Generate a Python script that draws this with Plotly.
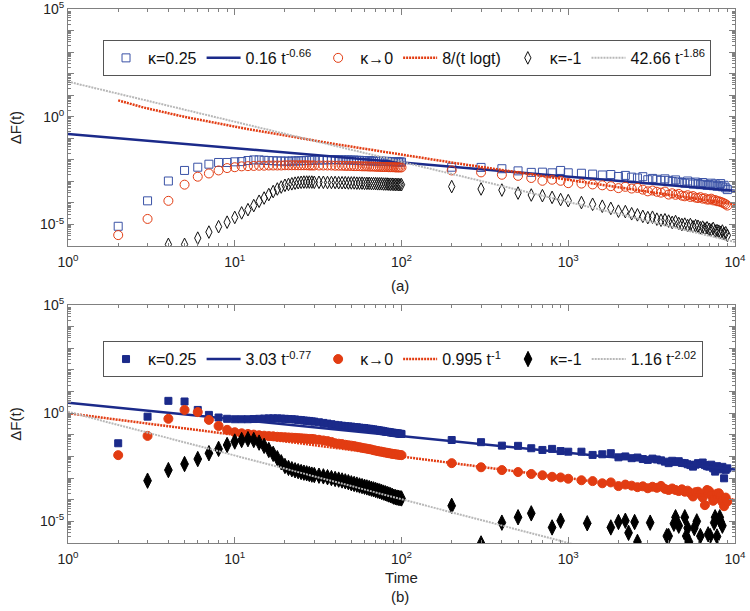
import numpy as np
import plotly.graph_objects as go

# ── data (log10 of ΔF) ────────────────────────────────────────────────────────
T_LEFT = list(range(2, 31)) + list(range(32, 101, 2))
T_RIGHT = list(range(200, 1001, 100)) + list(range(1200, 9001, 200))

# panel (a)
A_BLUE_L = [-5.08, -3.90, -2.98, -2.49, -2.34, -2.20, -2.12, -2.12, -2.09, -2.08,
            -2.03, -2.00, -2.00, -2.02, -2.03, -2.04, -2.05, -2.05, -2.06, -2.06,
            -2.05, -2.05, -2.04, -2.04, -2.03, -2.03, -2.02, -2.02, -2.01,
            -2.01, -2.00, -2.00, -1.99, -1.99, -1.99, -2.00, -2.00, -2.00, -2.01,
            -2.01, -2.02, -2.02, -2.03, -2.03, -2.04, -2.04, -2.05, -2.05, -2.05,
            -2.06, -2.06, -2.06, -2.07, -2.07, -2.07, -2.08, -2.08, -2.08, -2.09,
            -2.09, -2.09, -2.10, -2.10, -2.10]
A_RED_L = [-5.49, -4.74, -3.90, -3.15, -2.78, -2.63, -2.49, -2.38, -2.34, -2.30,
           -2.29, -2.28, -2.27, -2.27, -2.26, -2.26, -2.26, -2.26, -2.25, -2.25,
           -2.25, -2.25, -2.25, -2.25, -2.25, -2.25, -2.26, -2.26, -2.26,
           -2.26, -2.26, -2.26, -2.26, -2.27, -2.27, -2.27, -2.28, -2.28, -2.28,
           -2.29, -2.29, -2.29, -2.30, -2.30, -2.30, -2.31, -2.31, -2.31, -2.32,
           -2.32, -2.32, -2.33, -2.33, -2.33, -2.33, -2.34, -2.34, -2.34, -2.34,
           -2.35, -2.35, -2.35, -2.35, -2.35]
A_BLACK_L = [None, None, -5.92, -5.92, -5.63, -5.35, -5.10, -4.89, -4.67, -4.46,
             -4.31, -4.12, -3.92, -3.77, -3.61, -3.47, -3.35, -3.26, -3.18, -3.14,
             -3.11, -3.08, -3.06, -3.04, -3.03, -3.03, -3.03, -3.03, -3.04,
             -3.04, -3.04, -3.05, -3.05, -3.05, -3.06, -3.06, -3.06, -3.07, -3.07,
             -3.07, -3.08, -3.08, -3.08, -3.09, -3.09, -3.09, -3.10, -3.10, -3.10,
             -3.11, -3.11, -3.11, -3.12, -3.12, -3.12, -3.13, -3.13, -3.13, -3.14,
             -3.14, -3.14, -3.15, -3.15, -3.15]
A_BLUE_R = [-2.34, -2.35, -2.41, -2.51, -2.58, -2.57, -2.60, -2.49, -2.60,
            -2.62, -2.66, -2.70, -2.68, -2.77, -2.72, -2.80, -2.84, -2.78, -2.92,
            -2.86, -2.90, -2.95, -2.88, -2.95, -3.00, -2.93, -3.02, -3.05, -3.08,
            -2.98, -3.06, -3.12, -3.03, -3.10, -3.15, -3.05, -3.13, -3.18, -3.15,
            -3.08, -3.20, -3.12, -3.22, -3.20, -3.10, -3.25, -3.18, -3.30, -3.38]
A_RED_R = [-2.49, -2.58, -2.69, -2.74, -2.84, -2.97, -2.92, -2.97, -3.08,
           -3.10, -3.14, -3.18, -3.22, -3.31, -3.25, -3.33, -3.30, -3.38, -3.46,
           -3.42, -3.48, -3.52, -3.47, -3.61, -3.55, -3.62, -3.58, -3.66, -3.69,
           -3.64, -3.72, -3.68, -3.75, -3.77, -3.73, -3.80, -3.78, -3.84, -3.84,
           -3.80, -3.88, -3.86, -3.92, -3.92, -3.95, -3.98, -4.02, -4.06, -4.12]
A_BLACK_R = [-3.24, -3.35, -3.40, -3.54, -3.63, -3.66, -3.74, -3.84, -3.89,
             -3.98, -4.06, -4.15, -4.25, -4.38, -4.40, -4.50, -4.55, -4.62, -4.68,
             -4.66, -4.75, -4.80, -4.78, -4.84, -4.90, -4.86, -4.95, -5.00, -4.98,
             -5.05, -5.00, -5.10, -5.05, -5.08, -5.15, -5.12, -5.20, -5.15, -5.22,
             -5.25, -5.18, -5.30, -5.28, -5.31, -5.36, -5.30, -5.42, -5.38, -5.50]

# panel (b)
B_BLUE_L = [-1.39, -0.16, 0.57, 0.54, 0.15, -0.08, -0.20, -0.26, -0.28, -0.28,
            -0.28, -0.27, -0.26, -0.25, -0.24, -0.24, -0.24, -0.25, -0.26, -0.27,
            -0.28, -0.29, -0.31, -0.32, -0.34, -0.35, -0.36, -0.38, -0.39,
            -0.42, -0.45, -0.48, -0.51, -0.54, -0.56, -0.58, -0.60, -0.61, -0.62,
            -0.64, -0.65, -0.67, -0.68, -0.69, -0.71, -0.72, -0.74, -0.75, -0.77,
            -0.78, -0.80, -0.81, -0.83, -0.85, -0.86, -0.87, -0.89, -0.90, -0.91,
            -0.92, -0.93, -0.94, -0.95, -0.96]
B_RED_L = [-1.94, -1.05, -0.26, 0.15, 0.05, -0.31, -0.59, -0.77, -0.88, -0.93,
           -0.96, -0.99, -1.02, -1.04, -1.06, -1.07, -1.09, -1.10, -1.11, -1.12,
           -1.13, -1.14, -1.15, -1.16, -1.17, -1.18, -1.19, -1.19, -1.20,
           -1.23, -1.26, -1.29, -1.33, -1.39, -1.41, -1.43, -1.46, -1.48, -1.50,
           -1.52, -1.55, -1.57, -1.60, -1.62, -1.64, -1.66, -1.68, -1.71, -1.73,
           -1.75, -1.77, -1.78, -1.80, -1.82, -1.83, -1.85, -1.86, -1.88, -1.89,
           -1.90, -1.91, -1.92, -1.93, -1.94]
B_BLACK_L = [None, -3.12, -2.63, -2.35, -2.12, -1.85, -1.65, -1.47, -1.31, -1.24,
             -1.20, -1.24, -1.36, -1.51, -1.70, -1.88, -2.08, -2.27, -2.44, -2.53,
             -2.59, -2.64, -2.68, -2.72, -2.75, -2.78, -2.81, -2.84, -2.86,
             -2.89, -2.92, -2.96, -3.00, -3.04, -3.07, -3.11, -3.15, -3.19, -3.24,
             -3.27, -3.30, -3.34, -3.37, -3.40, -3.43, -3.46, -3.49, -3.52, -3.55,
             -3.58, -3.61, -3.64, -3.67, -3.70, -3.73, -3.76, -3.79, -3.82, -3.86,
             -3.88, -3.90, -3.91, -3.93, -3.94]
B_BLUE_R = [-1.24, -1.34, -1.50, -1.51, -1.62, -1.70, -1.65, -1.75, -1.78,
            -1.78, -1.93, -1.90, -1.85, -2.04, -2.00, -2.08, -2.05, -2.12, -2.16,
            -2.10, -2.14, -2.18, -2.24, -2.31, -2.20, -2.26, -2.22, -2.30, -2.31,
            -2.36, -2.40, -2.47, -2.38, -2.31, -2.35, -2.28, -2.40, -2.45, -2.47,
            -2.38, -2.55, -2.70, -2.45, -2.55, -2.60, -2.48, -3.01, -2.62, -2.55]
B_RED_R = [-2.31, -2.50, -2.63, -2.72, -2.81, -2.87, -2.94, -2.97, -3.03,
           -3.10, -3.14, -3.24, -3.20, -3.37, -3.30, -3.35, -3.42, -3.38, -3.47,
           -3.40, -3.45, -3.36, -3.50, -3.55, -3.48, -3.55, -3.60, -3.52, -3.63,
           -3.58, -3.70, -3.85, -3.65, -3.63, -3.75, -3.90, -4.25, -3.55, -3.60,
           -3.80, -4.05, -3.95, -3.72, -3.70, -3.85, -4.10, -4.30, -3.90, -4.09]
B_BLACK_T_R = [200, 300, 400, 500, 600, 800, 900, 1300, 1800, 2000,
               2200, 2300, 2500, 2600, 3100, 3900, 4000, 4300, 4400, 4600,
               5000, 5100, 5200, 5300, 5700, 5900, 6200, 6900, 7100, 7500,
               7600, 7800, 8100, 8200, 8400]
B_BLACK_R = [-4.28, -6.02, -5.06, -4.81, -4.63, -5.28, -4.97, -5.09, -5.28, -5.03,
             -4.97, -5.53, -5.03, -5.95, -5.06, -5.68, -5.68, -5.11, -4.81, -5.20,
             -4.81, -5.68, -5.31, -5.95, -5.31, -5.00, -5.68, -5.60, -5.68, -5.06,
             -4.81, -5.70, -4.81, -5.03, -5.20]

# fitted laws given in the legends
FIT_A_BLUE = (0.16, -0.66)
FIT_A_GREY = (42.66, -1.86)
FIT_B_BLUE = (3.03, -0.77)
FIT_B_RED = (0.995, -1.0)
FIT_B_GREY = (1.16, -2.02)

BLUE = "#1b2a8a"
BLUE_OPEN = "#3a52a6"
RED = "#e23c12"
GREY = "#b8b8b8"
FONT = "Arial, Liberation Sans, sans-serif"
DOTS = "2px,1px"


def pw(v):
    return [None if x is None else 10 ** x for x in v]


t_fit = np.logspace(0, 4, 200)
t_fit2 = np.logspace(np.log10(2), 4, 200)

fig = go.Figure()


def scat(t, v, sym, color, size, name, legend, xa, ya):
    fig.add_trace(go.Scatter(x=t, y=pw(v), mode="markers", name=name,
                             legend=legend, xaxis=xa, yaxis=ya,
                             marker=dict(symbol=sym, color=color, size=size,
                                         line=dict(width=1, color=color))))


def fit(t, y, color, dash, width, name, legend, xa, ya):
    fig.add_trace(go.Scatter(x=t, y=y, mode="lines", name=name, legend=legend,
                             xaxis=xa, yaxis=ya,
                             line=dict(color=color, dash=dash, width=width)))


# ── (a) ──
scat(T_LEFT + T_RIGHT, A_BLUE_L + A_BLUE_R, "square-open", BLUE_OPEN, 8, "κ=0.25", "legend", "x", "y")
fit(t_fit, FIT_A_BLUE[0] * t_fit ** FIT_A_BLUE[1], BLUE, "solid", 2.5,
    "0.16 t<sup>-0.66</sup>", "legend", "x", "y")
scat(T_LEFT + T_RIGHT, A_RED_L + A_RED_R, "circle-open", RED, 9, "κ→0", "legend", "x", "y")
fit(t_fit2, 8 / (t_fit2 * np.log(t_fit2)), RED, DOTS, 2.5, "8/(t logt)", "legend", "x", "y")
scat(T_LEFT + T_RIGHT, A_BLACK_L + A_BLACK_R, "diamond-tall-open", "#111111", 9, "κ=-1", "legend", "x", "y")
fit(t_fit, FIT_A_GREY[0] * t_fit ** FIT_A_GREY[1], GREY, DOTS, 2,
    "42.66 t<sup>-1.86</sup>", "legend", "x", "y")

# ── (b) ──
scat(T_LEFT + T_RIGHT, B_BLUE_L + B_BLUE_R, "square", BLUE, 7, "κ=0.25", "legend2", "x2", "y2")
fit(t_fit, FIT_B_BLUE[0] * t_fit ** FIT_B_BLUE[1], BLUE, "solid", 2.5,
    "3.03 t<sup>-0.77</sup>", "legend2", "x2", "y2")
scat(T_LEFT + T_RIGHT, B_RED_L + B_RED_R, "circle", RED, 9, "κ→0", "legend2", "x2", "y2")
fit(t_fit, FIT_B_RED[0] * t_fit ** FIT_B_RED[1], RED, DOTS, 2.5,
    "0.995 t<sup>-1</sup>", "legend2", "x2", "y2")
scat(T_LEFT + B_BLACK_T_R, B_BLACK_L + B_BLACK_R, "diamond-tall", "#000000", 11, "κ=-1", "legend2", "x2", "y2")
fit(t_fit, FIT_B_GREY[0] * t_fit ** FIT_B_GREY[1], GREY, DOTS, 2,
    "1.16 t<sup>-2.02</sup>", "legend2", "x2", "y2")

# ── axes ──
x_major = [1, 10, 100, 1000, 10000]
x_text = ["10<sup>%d</sup>" % k for k in range(5)]
y_major = [10.0 ** k for k in range(-6, 6)]
y_text = ["10<sup>%d</sup>" % k if k in (-5, 0, 5) else "" for k in range(-6, 6)]
minor_x = [m * 10.0 ** k for k in range(0, 4) for m in range(2, 10)]
minor_y = [m * 10.0 ** k for k in range(-6, 5) for m in range(2, 10)]

ax = dict(type="log", showline=True, linecolor="#808080", linewidth=1, mirror="allticks",
          ticks="inside", ticklen=6, tickcolor="#808080", showgrid=False, zeroline=False,
          automargin=False, ticklabeloverflow="allow", tickfont=dict(size=14, color="#222"))
xax = dict(ax, range=[0, 4], tickmode="array", tickvals=x_major, ticktext=x_text,
           ticklabelstandoff=3,
           minor=dict(tickmode="array", tickvals=minor_x, ticks="inside", ticklen=3,
                      tickcolor="#808080"))
yax = dict(ax, range=[-6, 5], tickmode="array", tickvals=y_major, ticktext=y_text,
           minor=dict(tickmode="array", tickvals=minor_y, ticks="inside", ticklen=3,
                      tickcolor="#808080"),
           title=dict(text="ΔF(t)", font=dict(size=15), standoff=14))

leg = dict(orientation="h", xref="paper", yref="paper", xanchor="left", yanchor="top",
           bordercolor="#555", borderwidth=1, bgcolor="white",
           font=dict(size=16, family=FONT, color="#111"), itemwidth=34)

fig.update_layout(
    width=750, height=611,
    margin=dict(l=68, r=15, t=9, b=68),
    plot_bgcolor="white", paper_bgcolor="white",
    font=dict(family=FONT, color="#222"),
    xaxis=dict(xax, domain=[0, 1], anchor="y"),
    yaxis=dict(yax, domain=[0.556, 1.0], anchor="x"),
    xaxis2=dict(xax, domain=[0, 1], anchor="y2",
                title=dict(text="Time", font=dict(size=15), standoff=6)),
    yaxis2=dict(yax, domain=[0.0, 0.4457], anchor="x2"),
    legend=dict(leg, x=0.0525, y=0.942),
    legend2=dict(leg, x=0.0525, y=0.378),
    annotations=[
        dict(text="(a)", x=0.498, y=0.483, xref="paper", yref="paper",
             yanchor="middle", showarrow=False, font=dict(size=15)),
        dict(text="(b)", x=0.498, y=-0.1, xref="paper", yref="paper",
             yanchor="middle", showarrow=False, font=dict(size=15)),
    ],
)

# the page's default body margin would shift the figure by 8 px
fig.write_html("out.html", config={"displayModeBar": False},
               post_script="document.body.style.margin='0';")
